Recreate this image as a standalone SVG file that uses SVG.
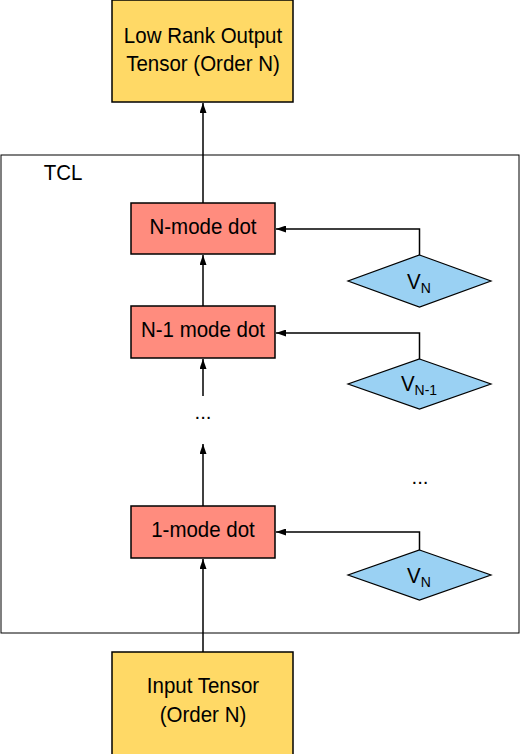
<svg xmlns="http://www.w3.org/2000/svg" width="520" height="754" viewBox="0 0 520 754">
<defs>
<marker id="ah" viewBox="0 0 10 7" refX="10" refY="3.5" markerWidth="10" markerHeight="7" markerUnits="userSpaceOnUse" orient="auto">
<path d="M0,0 L10,3.5 L0,7 Z" fill="#000"/>
</marker>
<style>
.t{font-family:"Liberation Sans",Arial,sans-serif;font-size:20.5px;fill:#000;text-anchor:middle}
.y{fill:#ffd966;stroke:#000;stroke-width:1.5}
.r{fill:#ff8c7e;stroke:#000;stroke-width:1.5}
.b{fill:#9ad1f3;stroke:#000;stroke-width:1.2}
.c{fill:none;stroke:#000;stroke-width:1.5;marker-end:url(#ah)}
</style>
</defs>
<rect width="520" height="754" fill="#fff"/>
<g id="tcl">
<rect x="1" y="155" width="518" height="478" fill="none" stroke="#000" stroke-width="1"/>
<text class="t" transform="translate(63,180) scale(1,1.1)">TCL</text>
</g>
<g id="output">
<rect class="y" x="112" y="0" width="181" height="102"/>
<text class="t" transform="translate(203,43) scale(1,1.1)">Low Rank Output</text>
<text class="t" transform="translate(203,71) scale(1,1.1)">Tensor (Order N)</text>
</g>
<g id="nmode">
<rect class="r" x="131" y="203" width="144" height="51"/>
<text class="t" transform="translate(203,234) scale(1,1.1)">N-mode dot</text>
</g>
<g id="n1mode">
<rect class="r" x="131" y="306" width="144" height="52"/>
<text class="t" transform="translate(203,337) scale(1,1.1)">N-1 mode dot</text>
</g>
<g id="dots1">
<text class="t" x="203" y="419">...</text>
</g>
<g id="onemode">
<rect class="r" x="131" y="506" width="144" height="52"/>
<text class="t" transform="translate(203,537) scale(1,1.1)">1-mode dot</text>
</g>
<g id="input">
<rect class="y" x="112" y="652" width="181" height="104"/>
<text class="t" transform="translate(203,693) scale(1,1.1)">Input Tensor</text>
<text class="t" transform="translate(203,722) scale(1,1.1)">(Order N)</text>
</g>
<g id="vn">
<polygon class="b" points="419.5,255 491,281 419.5,307 348,281"/>
<text class="t" transform="translate(419,289) scale(1,1.1)">V<tspan font-size="14" dy="4">N</tspan></text>
</g>
<g id="vn1">
<polygon class="b" points="419.5,359 491,384 419.5,409 348,384"/>
<text class="t" transform="translate(419,391) scale(1,1.1)">V<tspan font-size="14" dy="4">N-1</tspan></text>
</g>
<g id="dots2">
<text class="t" x="420" y="484">...</text>
</g>
<g id="vn2">
<polygon class="b" points="419.5,550 491,575 419.5,600 348,575"/>
<text class="t" transform="translate(419,583) scale(1,1.1)">V<tspan font-size="14" dy="4">N</tspan></text>
</g>
<g id="connectors">
<path class="c" d="M203,652 L203,559"/>
<path class="c" d="M203,506 L203,444"/>
<path class="c" d="M203,396 L203,359"/>
<path class="c" d="M203,306 L203,255"/>
<path class="c" d="M203,203 L203,103"/>
<path class="c" d="M419.5,255 L419.5,229 L276,229"/>
<path class="c" d="M419.5,359 L419.5,333 L276,333"/>
<path class="c" d="M419.5,550 L419.5,532 L276,532"/>
</g>
</svg>
